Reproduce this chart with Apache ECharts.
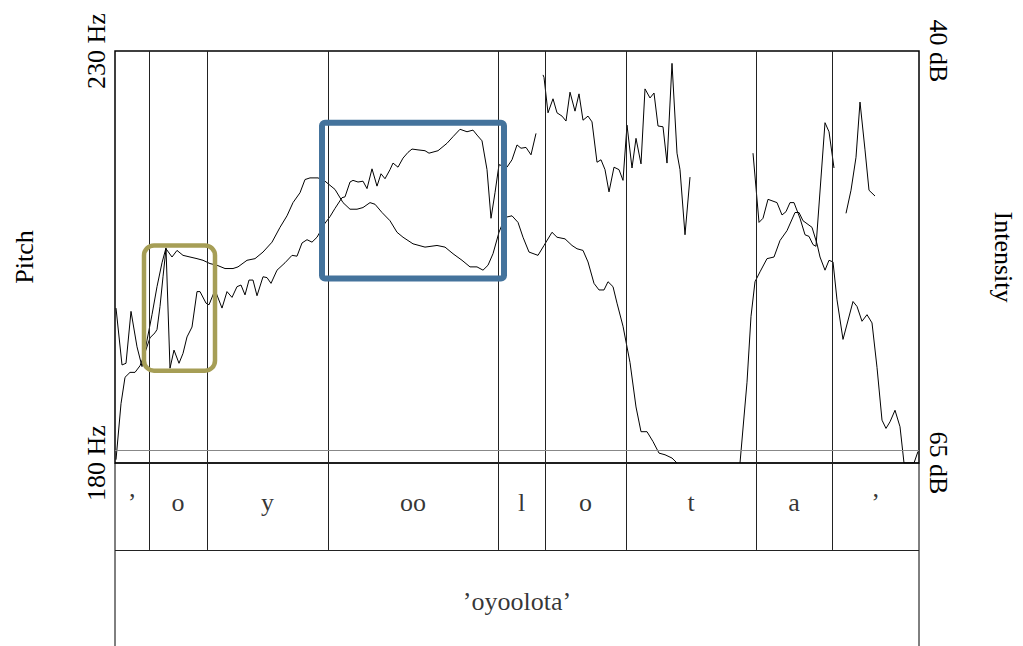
<!DOCTYPE html>
<html>
<head>
<meta charset="utf-8">
<title>’oyoolota’ pitch and intensity</title>
<script src="https://cdn.jsdelivr.net/npm/echarts@6/dist/echarts.min.js"></script>
<style>
  html, body { margin: 0; padding: 0; background: #fff; }
  #main { width: 1023px; height: 646px; }
</style>
</head>
<body>
<div id="main"></div>
<script>
// time in seconds
var duration = 0.804;
var pitchTicks = [180, 230];
var intensityTicks = [40, 65];
var floorLineHz = 181.6;

// pitch (Hz), voiced stretches
var pitchRun1 = [
    [0.001, 198.8], [0.007, 191.9], [0.011, 192.1], [0.016, 198.4], [0.022, 194.1],
    [0.027, 191.7], [0.032, 194.9], [0.037, 198.0], [0.042, 201.4], [0.047, 204.3],
    [0.051, 206.1], [0.055, 191.5], [0.059, 193.7], [0.064, 192.1], [0.068, 193.3],
    [0.072, 195.3], [0.077, 196.5], [0.082, 200.8], [0.085, 200.8], [0.091, 199.4],
    [0.094, 199.2], [0.100, 201.0], [0.107, 198.8], [0.112, 200.8], [0.117, 200.1],
    [0.122, 201.4], [0.126, 201.6], [0.130, 200.4], [0.134, 202.2], [0.138, 202.2],
    [0.142, 200.3], [0.148, 202.6], [0.152, 202.5], [0.156, 201.8], [0.162, 203.4],
    [0.170, 204.3], [0.177, 205.2], [0.182, 205.1], [0.187, 206.7], [0.192, 207.1],
    [0.197, 206.8], [0.202, 207.4], [0.210, 209.1], [0.215, 209.9], [0.220, 210.9],
    [0.227, 212.2], [0.230, 212.3], [0.235, 214.1], [0.238, 214.3], [0.243, 214.1],
    [0.248, 214.2], [0.252, 213.3], [0.257, 215.7], [0.262, 213.6], [0.266, 215.1],
    [0.270, 214.5], [0.275, 215.6], [0.278, 216.4], [0.283, 215.9], [0.288, 217.0],
    [0.293, 217.7], [0.297, 218.1], [0.303, 218.0], [0.310, 217.9], [0.314, 217.6],
    [0.323, 217.9], [0.332, 218.8], [0.338, 219.6], [0.345, 220.5], [0.352, 220.2],
    [0.358, 220.4], [0.362, 219.8], [0.367, 219.1], [0.372, 215.6], [0.376, 209.7],
    [0.380, 212.8], [0.384, 216.2], [0.392, 215.9], [0.397, 216.8], [0.402, 218.6],
    [0.406, 218.2], [0.411, 218.3], [0.416, 217.4], [0.421, 220.0]
];
var pitchRun2 = [
    [0.428, 227.1], [0.429, 226.8], [0.433, 222.5], [0.438, 224.2], [0.442, 222.5],
    [0.447, 222.1], [0.451, 221.5], [0.455, 225.0], [0.460, 222.7], [0.464, 224.8],
    [0.468, 221.6], [0.473, 222.1], [0.477, 221.4], [0.482, 216.5], [0.486, 216.8],
    [0.490, 215.6], [0.494, 212.9], [0.499, 215.9], [0.504, 215.6], [0.508, 214.3],
    [0.512, 221.0], [0.517, 215.8], [0.521, 219.4], [0.526, 216.3], [0.530, 225.4],
    [0.535, 224.3], [0.539, 224.9], [0.543, 220.9], [0.548, 220.8], [0.552, 216.4],
    [0.557, 228.5], [0.562, 217.6], [0.565, 215.6], [0.570, 207.7], [0.575, 214.7]
];
var pitchRun3 = [
    [0.638, 217.6], [0.644, 209.2], [0.648, 209.7], [0.653, 212.0], [0.662, 211.6],
    [0.667, 210.1], [0.671, 210.5], [0.675, 211.6], [0.679, 211.6], [0.685, 209.7],
    [0.690, 207.7], [0.694, 207.5], [0.698, 206.5], [0.701, 206.3], [0.710, 221.3],
    [0.714, 220.2], [0.719, 215.8]
];
var pitchRun4 = [
    [0.731, 210.3], [0.736, 213.1], [0.741, 217.1], [0.745, 223.8], [0.750, 218.0],
    [0.754, 213.1], [0.760, 212.4]
];

// intensity (dB)
var intensityRun1 = [
    [0.001, 64.8], [0.006, 61.4], [0.010, 59.8], [0.015, 59.5], [0.020, 59.5],
    [0.025, 59.1], [0.030, 58.3], [0.035, 57.4], [0.040, 57.1], [0.042, 56.9],
    [0.045, 55.5], [0.048, 53.7], [0.051, 52.0], [0.057, 52.5], [0.062, 52.1],
    [0.068, 52.4], [0.075, 52.5], [0.082, 52.6], [0.088, 52.7], [0.095, 52.9],
    [0.102, 53.0], [0.110, 53.2], [0.118, 53.2], [0.123, 53.1], [0.132, 52.7],
    [0.140, 52.6], [0.148, 52.2], [0.157, 51.6], [0.165, 50.7], [0.172, 50.0],
    [0.178, 49.2], [0.185, 48.6], [0.190, 47.8], [0.195, 47.7], [0.203, 47.7],
    [0.210, 47.9], [0.220, 48.4], [0.228, 49.2], [0.235, 49.6], [0.242, 49.6],
    [0.248, 49.5], [0.255, 49.2], [0.260, 49.3], [0.267, 49.8], [0.275, 50.3],
    [0.282, 51.0], [0.288, 51.3], [0.298, 51.7], [0.310, 51.9], [0.322, 51.8],
    [0.330, 51.9], [0.338, 52.3], [0.347, 52.7], [0.355, 53.1], [0.362, 53.1],
    [0.368, 53.3], [0.373, 53.0], [0.378, 52.3], [0.384, 51.0], [0.390, 50.1],
    [0.397, 50.0], [0.403, 50.4], [0.408, 51.3], [0.414, 52.2], [0.423, 52.4],
    [0.429, 51.8], [0.437, 51.0], [0.442, 51.3], [0.450, 51.4], [0.457, 51.8],
    [0.462, 52.0], [0.468, 52.1], [0.473, 52.8], [0.479, 54.1], [0.484, 54.5],
    [0.489, 54.5], [0.493, 54.0], [0.498, 54.3], [0.502, 55.3], [0.508, 56.7],
    [0.515, 58.9], [0.521, 61.6], [0.526, 63.1], [0.532, 63.1], [0.538, 63.7],
    [0.544, 64.4], [0.550, 64.5], [0.557, 64.7], [0.562, 65.0]
];
var intensityRun2 = [
    [0.625, 65.0], [0.632, 60.1], [0.636, 56.1], [0.640, 54.0], [0.645, 53.4],
    [0.652, 52.6], [0.659, 52.5], [0.665, 51.5], [0.672, 50.9], [0.680, 49.8],
    [0.684, 49.8], [0.688, 50.3], [0.697, 50.7], [0.702, 51.7], [0.705, 52.5],
    [0.710, 53.3], [0.714, 52.7], [0.718, 52.8], [0.722, 55.1], [0.728, 57.5],
    [0.738, 55.2], [0.742, 55.5], [0.747, 56.4], [0.752, 56.0], [0.757, 56.5],
    [0.762, 59.2], [0.767, 62.4], [0.771, 62.9], [0.775, 62.5], [0.780, 61.8],
    [0.785, 62.8], [0.789, 65.0], [0.799, 65.0], [0.803, 64.3]
];

// text grid
var boundaries = [0.034, 0.092, 0.213, 0.383, 0.430, 0.511, 0.641, 0.717];
var segments = ['’', 'o', 'y', 'oo', 'l', 'o', 't', 'a', '’'];
var word = '’oyoolota’';

// highlight boxes: [t0, Hz0, t1, Hz1]
var highlightBoxes = [
    [0.029, 206.4, 0.100, 191.2],
    [0.207, 221.3, 0.389, 202.4]
];
var boxStyles = [
    { stroke: '#A69E56', lineWidth: 4.5, r: 10 },
    { stroke: '#44739C', lineWidth: 6, r: 3 }
];

var serif = "'Liberation Serif', 'DejaVu Serif', serif";

function joinRuns(runs) {
    var out = [];
    runs.forEach(function (run, i) {
        if (i > 0) {
            out.push([(out[out.length - 1][0] + run[0][0]) / 2, '-']);
        }
        out = out.concat(run);
    });
    return out;
}

var edges = [0].concat(boundaries, [duration]);
var tierData = segments.map(function (s, i) {
    return { name: s, value: [(edges[i] + edges[i + 1]) / 2, 0.45] };
});
tierData.push({ name: word, value: [duration / 2, 1.59] });

var myChart = echarts.init(document.getElementById('main'), null, { renderer: 'svg' });

var option = {
    animation: false,
    backgroundColor: '#fff',
    grid: [
        { left: 115, top: 51, width: 804, height: 412, outerBoundsMode: 'none', containLabel: false,
          show: true, borderColor: '#000', borderWidth: 1.5 },
        { left: 115, top: 463, width: 804, height: 200, outerBoundsMode: 'none', containLabel: false,
          show: true, borderColor: '#000', borderWidth: 1 }
    ],
    xAxis: [
        { gridIndex: 0, type: 'value', min: 0, max: duration, show: false },
        { gridIndex: 1, type: 'value', min: 0, max: duration, show: false }
    ],
    yAxis: [
        {
            gridIndex: 0, type: 'value', position: 'left',
            min: pitchTicks[0], max: pitchTicks[1], interval: pitchTicks[1] - pitchTicks[0],
            name: 'Pitch', nameLocation: 'middle', nameRotate: 90, nameGap: 78,
            nameTextStyle: { fontFamily: serif, fontSize: 26, color: '#000' },
            axisLine: { show: false }, axisTick: { show: false }, splitLine: { show: false },
            axisLabel: {
                formatter: function (v) { return v + ' Hz'; },
                rotate: 90, margin: 6, hideOverlap: false,
                fontFamily: serif, fontSize: 26, color: '#000'
            }
        },
        {
            gridIndex: 0, type: 'value', position: 'right', inverse: true,
            min: intensityTicks[0], max: intensityTicks[1], interval: intensityTicks[1] - intensityTicks[0],
            name: 'Intensity', nameLocation: 'middle', nameRotate: -90, nameGap: 71,
            nameTextStyle: { fontFamily: serif, fontSize: 26, color: '#000' },
            axisLine: { show: false }, axisTick: { show: false }, splitLine: { show: false },
            axisLabel: {
                formatter: function (v) { return v + ' dB'; },
                rotate: -90, margin: 6, hideOverlap: false,
                fontFamily: serif, fontSize: 26, color: '#000'
            }
        },
        { gridIndex: 1, type: 'value', min: 0, max: 2.3, inverse: true, show: false }
    ],
    series: [
        {
            name: 'Pitch',
            type: 'line',
            xAxisIndex: 0, yAxisIndex: 0,
            data: joinRuns([pitchRun1, pitchRun2, pitchRun3, pitchRun4]),
            symbol: 'none',
            silent: true,
            lineStyle: { color: '#000', width: 1 },
            markLine: {
                silent: true,
                precision: 4,
                symbol: ['none', 'none'],
                label: { show: false },
                lineStyle: { color: '#222', width: 1, type: 'solid' },
                data: boundaries.map(function (t) { return { xAxis: t }; }).concat([
                    { yAxis: floorLineHz, lineStyle: { color: '#888', width: 1, type: 'solid' } }
                ])
            }
        },
        {
            name: 'Intensity',
            type: 'line',
            xAxisIndex: 0, yAxisIndex: 1,
            data: joinRuns([intensityRun1, intensityRun2]),
            symbol: 'none',
            silent: true,
            lineStyle: { color: '#000', width: 1 }
        },
        {
            name: 'Highlights',
            type: 'custom',
            xAxisIndex: 0, yAxisIndex: 0,
            data: highlightBoxes,
            silent: true,
            z: 10,
            clip: false,
            renderItem: function (params, api) {
                var p0 = api.coord([api.value(0), api.value(1)]);
                var p1 = api.coord([api.value(2), api.value(3)]);
                var st = boxStyles[params.dataIndex];
                return {
                    type: 'rect',
                    shape: {
                        x: Math.min(p0[0], p1[0]), y: Math.min(p0[1], p1[1]),
                        width: Math.abs(p1[0] - p0[0]), height: Math.abs(p1[1] - p0[1]),
                        r: st.r
                    },
                    style: { fill: 'none', stroke: st.stroke, lineWidth: st.lineWidth }
                };
            }
        },
        {
            name: 'TextGrid',
            type: 'scatter',
            xAxisIndex: 1, yAxisIndex: 2,
            data: tierData,
            symbolSize: 1,
            silent: true,
            itemStyle: { color: 'rgba(0,0,0,0)' },
            label: {
                show: true, position: 'inside', formatter: '{b}',
                fontFamily: serif, fontSize: 26, color: '#000'
            },
            markLine: {
                silent: true,
                precision: 4,
                symbol: ['none', 'none'],
                label: { show: false },
                lineStyle: { color: '#222', width: 1, type: 'solid' },
                data: boundaries.map(function (t) {
                    return [{ coord: [t, 0] }, { coord: [t, 1] }];
                }).concat([[{ coord: [0, 1] }, { coord: [duration, 1] }]])
            }
        }
    ]
};

myChart.setOption(option);
window.onresize = function () {
    myChart.resize();
};
</script>
</body>
</html>
